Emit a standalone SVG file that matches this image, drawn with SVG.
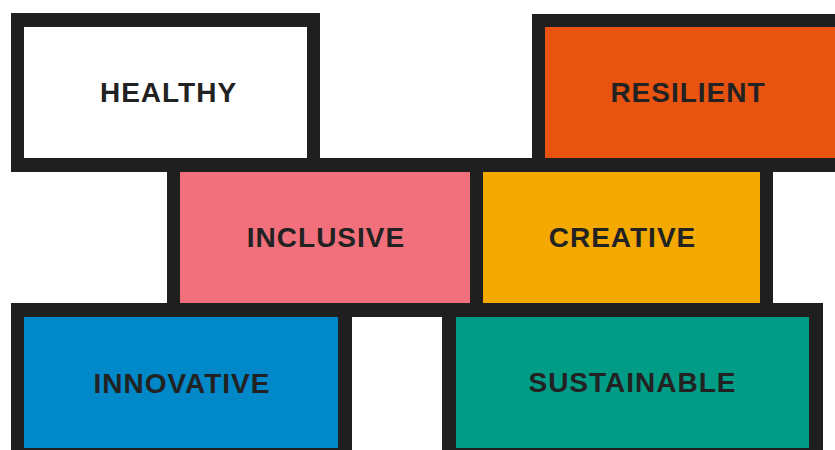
<svg xmlns="http://www.w3.org/2000/svg" width="835" height="450" viewBox="0 0 835 450">
<style>
.frame{fill:#1f1f1f}
.lbl{font-family:"Liberation Sans",Arial,sans-serif;font-weight:bold;font-size:28px;fill:#222222;text-anchor:middle;letter-spacing:1px}
</style>
<rect width="835" height="450" fill="#ffffff"/>
<g id="healthy">
<rect class="frame" x="11" y="13" width="309" height="159"/>
<rect x="24" y="27" width="283" height="131" fill="#ffffff"/>
<text class="lbl" x="168.5" y="102">HEALTHY</text>
</g>
<g id="resilient">
<rect class="frame" x="532" y="14" width="310" height="158"/>
<rect x="545" y="27" width="300" height="131" fill="#e8540f"/>
<text class="lbl" x="688" y="102">RESILIENT</text>
</g>
<g id="inclusive">
<rect class="frame" x="167" y="158" width="316" height="159"/>
<rect x="180" y="172" width="290" height="131" fill="#f2707b"/>
<text class="lbl" x="326" y="247">INCLUSIVE</text>
</g>
<g id="creative">
<rect class="frame" x="470" y="158" width="303" height="159"/>
<rect x="483" y="172" width="277" height="131" fill="#f4a900"/>
<text class="lbl" x="622.5" y="247">CREATIVE</text>
</g>
<g id="innovative">
<rect class="frame" x="11" y="303" width="341" height="158"/>
<rect x="24" y="317" width="314" height="131" fill="#0088c8"/>
<text class="lbl" x="182" y="393">INNOVATIVE</text>
</g>
<g id="sustainable">
<rect class="frame" x="442" y="303" width="381" height="158"/>
<rect x="456" y="317" width="353" height="131" fill="#009c86"/>
<text class="lbl" x="632.5" y="392">SUSTAINABLE</text>
</g>
<g id="connectors"></g>
</svg>
